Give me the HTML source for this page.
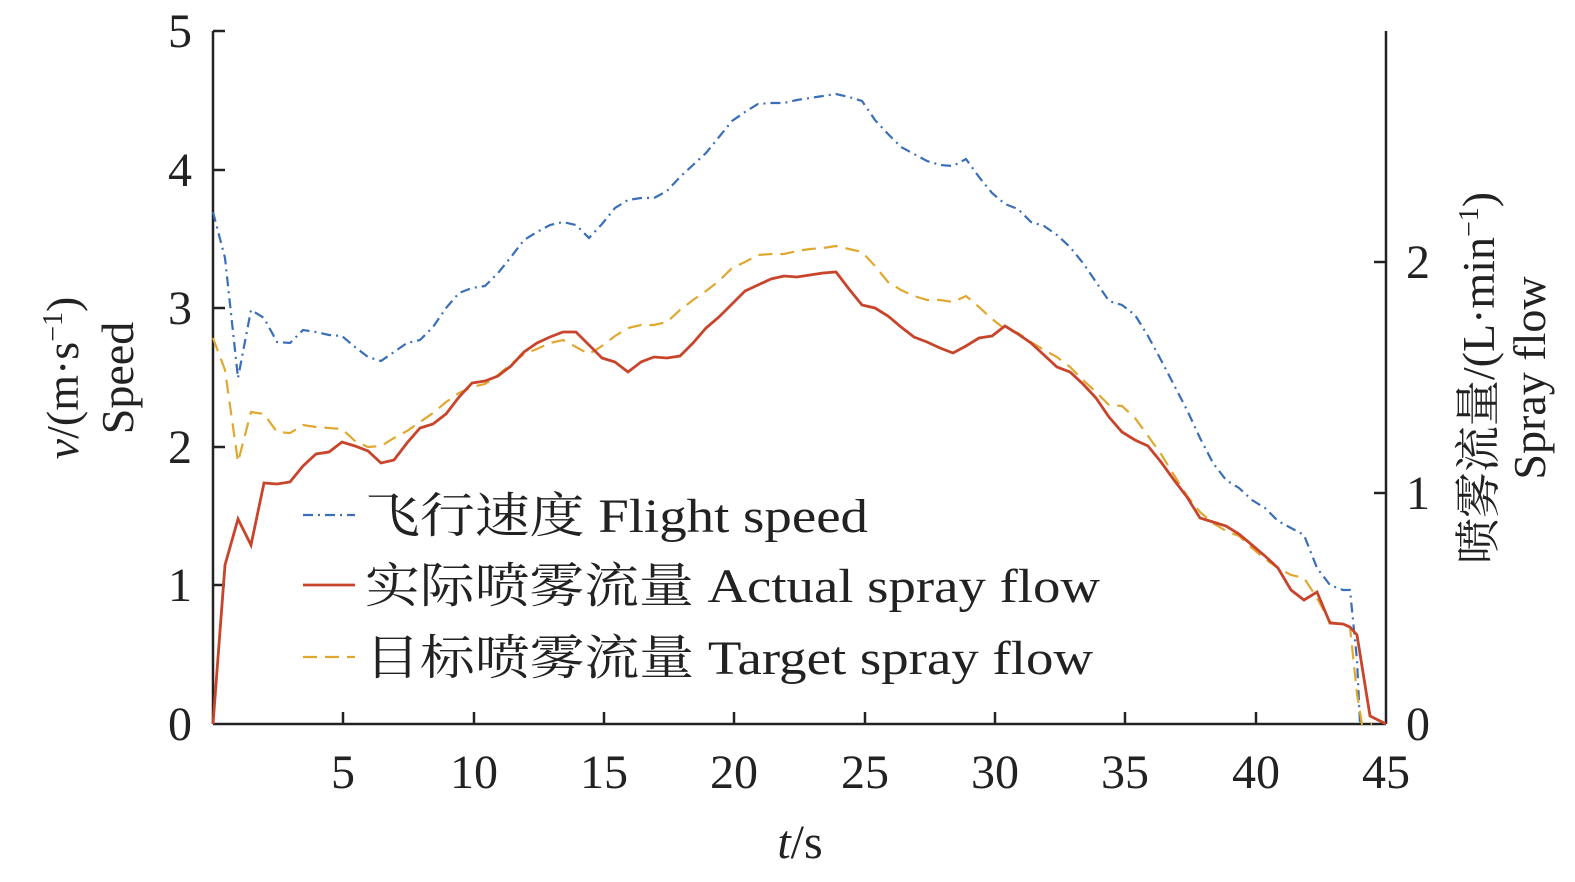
<!DOCTYPE html><html><head><meta charset="utf-8"><style>body{margin:0;background:#fff}svg{display:block}text{font-family:"Liberation Serif","Noto Serif CJK SC",serif;fill:#222}</style></head><body>
<svg width="1575" height="882" viewBox="0 0 1575 882">
<g stroke="#222" stroke-width="2.5" fill="none">
<line x1="213" y1="31" x2="213" y2="724"/><line x1="213" y1="724" x2="1386" y2="724"/><line x1="1386" y1="31" x2="1386" y2="724"/>
<line x1="213" y1="31" x2="225" y2="31"/><line x1="213" y1="170" x2="225" y2="170"/><line x1="213" y1="308" x2="225" y2="308"/><line x1="213" y1="447" x2="225" y2="447"/><line x1="213" y1="585" x2="225" y2="585"/>
<line x1="1386" y1="262" x2="1374" y2="262"/><line x1="1386" y1="493" x2="1374" y2="493"/>
<line x1="343" y1="724" x2="343" y2="712"/><line x1="474" y1="724" x2="474" y2="712"/><line x1="604" y1="724" x2="604" y2="712"/><line x1="734" y1="724" x2="734" y2="712"/><line x1="865" y1="724" x2="865" y2="712"/><line x1="995" y1="724" x2="995" y2="712"/><line x1="1125" y1="724" x2="1125" y2="712"/><line x1="1256" y1="724" x2="1256" y2="712"/>
</g>
<g font-size="48" text-anchor="end"><text x="192" y="47">5</text><text x="192" y="186">4</text><text x="192" y="324">3</text><text x="192" y="463">2</text><text x="192" y="601">1</text><text x="192" y="740">0</text></g>
<g font-size="48" text-anchor="start"><text x="1406" y="278">2</text><text x="1406" y="509">1</text><text x="1406" y="740">0</text></g>
<g font-size="48" text-anchor="middle"><text x="343" y="788">5</text><text x="474" y="788">10</text><text x="604" y="788">15</text><text x="734" y="788">20</text><text x="865" y="788">25</text><text x="995" y="788">30</text><text x="1125" y="788">35</text><text x="1256" y="788">40</text><text x="1386" y="788">45</text>
<text x="800" y="858"><tspan font-style="italic">t</tspan>/s</text></g>
<g font-size="46" text-anchor="middle">
<text transform="translate(78,378) rotate(-90)"><tspan font-style="italic">v</tspan>/(m·s<tspan font-size="28" dy="-16">−1</tspan><tspan dy="16">)</tspan></text>
<text transform="translate(133,378) rotate(-90)">Speed</text>
<text transform="translate(1494,378) rotate(-90)">喷雾流量/(L·min<tspan font-size="28" dy="-16">−1</tspan><tspan dy="16">)</tspan></text>
<text transform="translate(1545,378) rotate(-90)">Spray flow</text>
</g>
<polyline fill="none" stroke="#3a6fb8" stroke-width="2.2" stroke-dasharray="10,5,2,5" points="213,212 225,258 238,378 251,310 264,318 277,342 290,343 303,330 316,332 329,335 342,336 355,347 368,357 381,361 394,352 407,343 420,340 433,327 446,308 459,293 472,288 485,286 498,273 511,257 524,240 537,232 550,225 563,222 576,225 589,238 602,224 615,208 628,200 641,198 654,198 667,191 680,177 693,165 706,153 719,137 732,121 745,112 758,104 771,103 784,103 797,100 810,98 823,96 836,94 849,97 862,101 875,120 888,134 901,147 914,154 927,161 940,165 953,166 966,159 979,177 992,193 1005,204 1018,209 1031,222 1044,226 1057,235 1070,247 1083,263 1096,282 1109,301 1122,305 1135,315 1148,336 1161,360 1174,385 1187,410 1200,438 1213,463 1226,480 1239,488 1252,500 1265,508 1278,521 1291,528 1304,535 1317,568 1330,585 1343,590 1350,590 1357,660 1360,724"/>
<polyline fill="none" stroke="#e0a830" stroke-width="2.2" stroke-dasharray="14,8" points="213,338 225,370 238,462 251,412 264,414 277,432 290,433 303,425 316,427 329,428 342,429 355,441 368,447 381,446 394,438 407,431 420,422 433,413 446,402 459,393 472,387 485,384 498,375 511,364 524,354 537,349 550,343 563,340 576,347 589,354 602,346 615,336 628,328 641,325 654,325 667,322 680,310 693,300 706,291 719,281 732,268 745,262 758,255 771,254 784,254 797,251 810,249 823,248 836,246 849,249 862,252 875,266 888,282 901,290 914,296 927,300 940,300 953,302 966,296 979,307 992,319 1005,329 1018,333 1031,342 1044,350 1057,357 1070,367 1083,380 1096,392 1109,405 1122,406 1135,418 1148,436 1161,454 1174,475 1187,496 1200,512 1213,523 1226,531 1239,536 1252,548 1265,559 1278,568 1291,575 1304,578 1317,598 1330,622 1343,625 1350,627 1357,694 1362,724 1372,724"/>
<polyline fill="none" stroke="#c8442a" stroke-width="2.8" points="213,724 225,565 238,519 251,545 264,483 277,484 290,482 303,466 316,454 329,452 342,442 355,446 368,451 381,463 394,460 407,443 420,428 433,424 446,414 459,397 472,383 485,381 498,376 511,366 524,352 537,343 550,337 563,332 576,332 589,345 602,358 615,362 628,372 641,362 654,357 667,358 680,356 693,343 706,328 719,317 732,304 745,291 758,285 771,279 784,276 797,277 810,275 823,273 836,272 849,289 862,305 875,308 888,316 901,327 914,337 927,342 940,348 953,353 966,346 979,338 992,336 1005,326 1018,334 1031,343 1044,355 1057,367 1070,372 1083,384 1096,398 1109,417 1122,432 1135,440 1148,446 1161,462 1174,480 1187,497 1200,518 1213,522 1226,526 1239,534 1252,545 1265,556 1278,568 1291,590 1304,600 1317,592 1330,623 1343,624 1350,627 1357,635 1370,716 1386,724"/>
<line x1="303" y1="515" x2="355" y2="515" stroke="#3a6fb8" stroke-width="2.2" stroke-dasharray="10,5,2,5"/>
<line x1="303" y1="585" x2="355" y2="585" stroke="#c8442a" stroke-width="2.8"/>
<line x1="303" y1="657" x2="355" y2="657" stroke="#e0a830" stroke-width="2.2" stroke-dasharray="14,8"/>
<g font-size="48"><text x="365" y="532" textLength="503" lengthAdjust="spacingAndGlyphs">飞行速度 Flight speed</text><text x="365" y="602" textLength="735" lengthAdjust="spacingAndGlyphs">实际喷雾流量 Actual spray flow</text><text x="365" y="674" textLength="728" lengthAdjust="spacingAndGlyphs">目标喷雾流量 Target spray flow</text></g>
</svg></body></html>
